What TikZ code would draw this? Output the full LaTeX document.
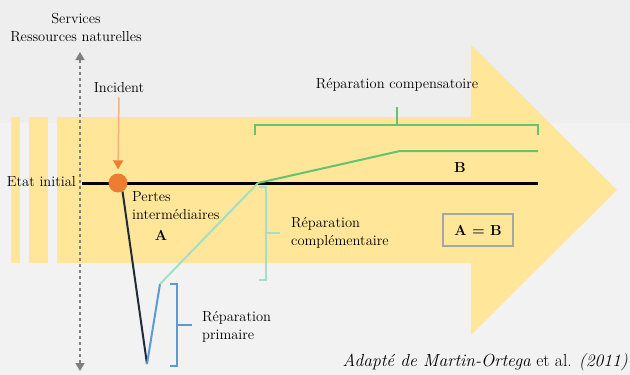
\documentclass[tikz,border=0pt]{standalone}
\usetikzlibrary{arrows.meta}
\definecolor{bgtop}{HTML}{EEEEEE}
\definecolor{bglow}{HTML}{F2F2F2}
\definecolor{arrowfill}{HTML}{FFE699}
\definecolor{incident}{HTML}{ED7D31}
\definecolor{incline}{HTML}{F4B183}
\definecolor{lossdark}{HTML}{222B3A}
\definecolor{primblue}{HTML}{5B9BD5}
\definecolor{compteal}{HTML}{A3DFC6}
\definecolor{compgreen}{HTML}{62C46F}
\definecolor{boxgray}{HTML}{A6A6A6}
\definecolor{axisgray}{HTML}{7F7F7F}

\tikzset{
  lbl/.style={font=\fontsize{14.5}{18}\selectfont, inner sep=0pt, align=left},
  axis/.style={axisgray, dashed, line width=1.6pt, {Triangle[length=8pt,width=9pt]}-{Triangle[length=8pt,width=9pt]}},
  etat/.style={black, line width=3pt},
  prim/.style={primblue, line width=2pt},
  compl/.style={compteal, line width=2pt},
  comp/.style={compgreen, line width=2pt},
}

\begin{document}
\begin{tikzpicture}[x=1pt,y=-1pt]
\useasboundingbox (0,0) rectangle (630,375);
\fill[bgtop] (0,0) rectangle (630,123);
\fill[bglow] (0,123) rectangle (630,375);

% grande fleche
\fill[arrowfill] (11,117) rectangle (20,263);
\fill[arrowfill] (29,117) rectangle (48,263);
\fill[arrowfill] (57,117) -- (471,117) -- (471,45) -- (617,190) -- (471,335) -- (471,263) -- (57,263) -- cycle;

% axe vertical
\node[lbl, align=center] (services) at (76,28) {Services\\Ressources naturelles};
\coordinate (axtop) at (80,52);
\coordinate (axbot) at (80,371);
\draw[axis] (axbot) -- (axtop);

% etat initial
\coordinate (start) at (82,183);
\coordinate (end) at (538,183);
\node[lbl, anchor=east] (etat) at (76,182) {Etat initial};
\draw[etat] (start) -- (end);

% trajectoire
\coordinate (bottom) at (147,364);
\coordinate (primtop) at (160,284);
\coordinate (meet) at (258,183);
\coordinate (knee) at (400,151);
\coordinate (bend) at (538,151);
\node[circle, fill=incident, inner sep=0pt, minimum size=19pt] (inc) at (118,183) {};
\draw[lossdark, line width=2pt] (inc.-62) -- (bottom);
\draw[prim] (bottom) -- (primtop);
\draw[compl] (primtop) -- (meet);
\draw[comp] (meet) -- (knee) -- (bend);

% incident
\node[lbl] (inclbl) at (119,88) {Incident};
\draw[incline, line width=1.5pt, shorten <=4pt, shorten >=4pt, -{Triangle[length=9pt,width=10pt,color=incident]}] (inclbl.south) -- (inc.north);

% accolades
\draw[comp] (255,135) -- (255,125) -- (538,125) -- (538,135);
\draw[comp] (397,125) -- (397,107);
\node[lbl] (complbl) at (397,85) {Réparation compensatoire};

\draw[compl] (259,187) -- (266,187) -- (266,280) -- (259,280);
\draw[compl] (266,233) -- (280,233);
\node[lbl, anchor=west] (compllbl) at (291,233) {Réparation\\complémentaire};

\draw[prim] (170,284) -- (177,284) -- (177,366) -- (170,366);
\draw[prim] (177,325) -- (192,325);
\node[lbl, anchor=west] (primlbl) at (202,327) {Réparation\\primaire};

% pertes
\node[lbl, anchor=west] (pertes) at (132,206) {Pertes\\intermédiaires};
\node[lbl, font=\fontsize{14.5}{18}\selectfont\bfseries] (A) at (161,235) {A};
\node[lbl, font=\fontsize{14.5}{18}\selectfont\bfseries] (B) at (460,168) {B};
\node[draw=boxgray, line width=1.5pt, minimum width=70pt, minimum height=32pt, font=\fontsize{14.5}{18}\selectfont\bfseries] (egal) at (478,230) {A = B};

% source
\node[lbl, anchor=east, font=\fontsize{17.5}{20}\selectfont] (source) at (628,362) {\textit{Adapté de Martin-Ortega} et al. \textit{(2011)}};
\end{tikzpicture}
\end{document}
